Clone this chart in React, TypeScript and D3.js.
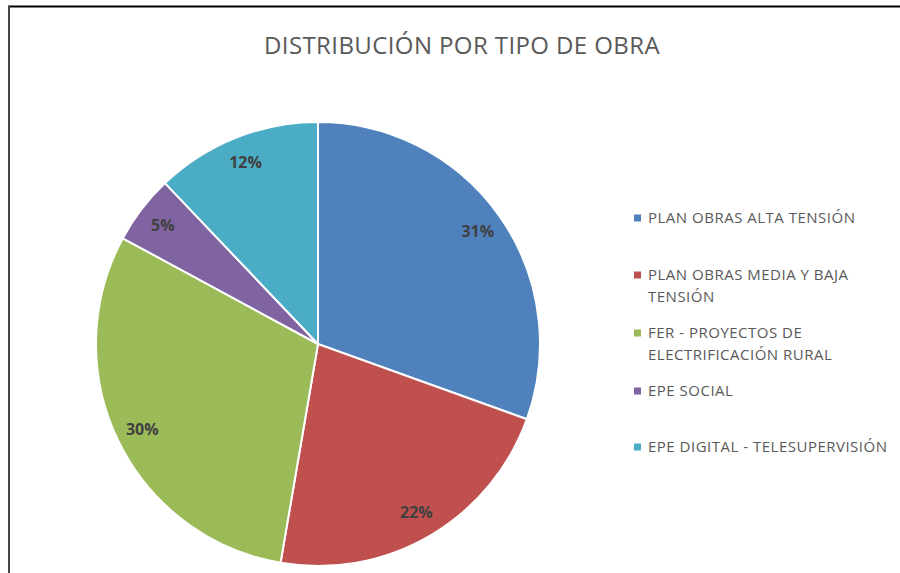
import React from "react";
import * as d3 from "d3";

const categories = [
  "PLAN OBRAS ALTA TENSIÓN",
  "PLAN OBRAS MEDIA Y BAJA TENSIÓN",
  "FER - PROYECTOS DE ELECTRIFICACIÓN RURAL",
  "EPE SOCIAL",
  "EPE DIGITAL - TELESUPERVISIÓN",
];
const legendLines = [
  ["PLAN OBRAS ALTA TENSIÓN"],
  ["PLAN OBRAS MEDIA Y BAJA", "TENSIÓN"],
  ["FER - PROYECTOS DE", "ELECTRIFICACIÓN RURAL"],
  ["EPE SOCIAL"],
  ["EPE DIGITAL - TELESUPERVISIÓN"],
];
const values = [30.5, 22.2, 30.2, 5.0, 12.1];
const colors = ["#4F81BD", "#C0504D", "#9BBB59", "#8064A2", "#4BACC6"];
const title = "DISTRIBUCIÓN POR TIPO DE OBRA";

export default function App() {
  const W = 900, H = 573;
  const cx = 318, cy = 344, r = 222;
  const pie = d3.pie<number>().sort(null).value((d) => d)(values);
  const arc = d3.arc<d3.PieArcDatum<number>>().innerRadius(0).outerRadius(r);
  const labelArc = d3.arc<d3.PieArcDatum<number>>().innerRadius(r * 0.88).outerRadius(r * 0.88);
  const font = "'Open Sans', sans-serif";
  const legendY = [218, 275, 333, 391, 447];
  return (
    <svg width={W} height={H} style={{ position: "absolute", left: 0, top: 0, background: "#fff" }} fontFamily={font}>
      <rect x={0} y={0} width={W} height={H} fill="#fff" />
      <line x1={8} x2={W} y1={6.5} y2={6.5} stroke="#000" strokeWidth={2} />
      <line x1={9} x2={9} y1={6} y2={H} stroke="#444" strokeWidth={2} />
      <text x={462} y={54} textAnchor="middle" fontSize={24} letterSpacing={0.4} fill="#595959">{title}</text>
      <g transform={`translate(${cx},${cy})`}>
        {pie.map((d, i) => (
          <path key={i} d={arc(d) || ""} fill={colors[i]} stroke="#fff" strokeWidth={2} />
        ))}
        {pie.map((d, i) => {
          const [x, y] = labelArc.centroid(d);
          return (
            <text key={i} x={x} y={y} dy="0.35em" textAnchor="middle" fontSize={16} fontWeight="bold" fill="#404040">
              {Math.round(d.data) + "%"}
            </text>
          );
        })}
      </g>
      <g>
        {legendLines.map((lines, i) => (
          <g key={i} aria-label={categories[i]}>
            <rect x={634} y={legendY[i] - 3.5} width={7} height={7} fill={colors[i]} />
            {lines.map((ln, j) => (
              <text key={j} x={648} y={legendY[i] + j * 22} dy="0.35em" fontSize={15} letterSpacing={0.5} fill="#595959">{ln}</text>
            ))}
          </g>
        ))}
      </g>
    </svg>
  );
}
